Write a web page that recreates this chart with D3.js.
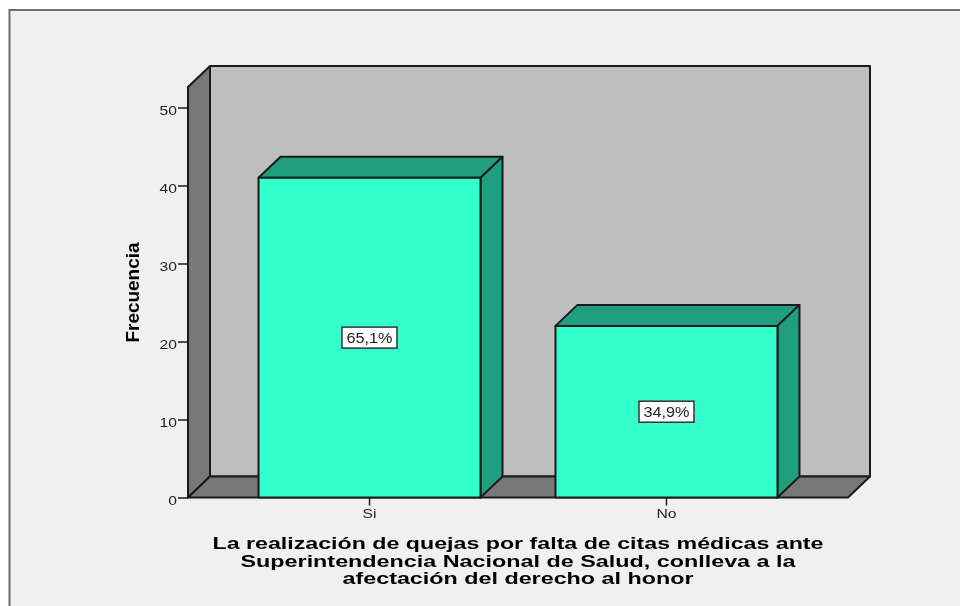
<!DOCTYPE html>
<html>
<head>
<meta charset="utf-8">
<script src="https://cdn.jsdelivr.net/npm/d3@7"></script>
<style>
    html, body { margin: 0; padding: 0; background: #fff; }
    svg { display: block; filter: blur(0.4px); }
    text { font-family: "Liberation Sans", Arial, sans-serif; }
</style>
</head>
<body>
<script>
// Data
var categories = ["Si", "No"];
var counts = [41, 22];
var percentLabels = ["65,1%", "34,9%"];
var yTicks = [0, 10, 20, 30, 40, 50];
var yTitle = "Frecuencia";
var xTitleLines = [
    "La realización de quejas por falta de citas médicas ante",
    "Superintendencia Nacional de Salud, conlleva a la",
    "afectación del derecho al honor"
];

// Colors
var frameFill = "#f0f0f0";
var frameStroke = "#6e6e6e";
var backWall = "#bebebe";
var sideWall = "#787878";
var barFront = "#33ffcc";
var barDark = "#1f9f7f";
var lineColor = "#1a1a1a";

var width = 960, height = 606;

// Plot box (front plane) and the 3D offset
var left = 188, right = 848, bottom = 497.5, topY = 87;
var depthX = 22, depthY = 21;

// Small labels in the reference are wider than Liberation Sans
var labelStretch = 1.16;

var svg = d3.select("body").append("svg")
    .attr("width", width)
    .attr("height", height);

// Outer frame, open on the right and the bottom like the reference
svg.append("rect")
    .attr("x", 9.5).attr("y", 10)
    .attr("width", width).attr("height", height)
    .attr("fill", frameFill)
    .attr("stroke", frameStroke)
    .attr("stroke-width", 2);

var x = d3.scaleBand()
    .domain(categories)
    .range([left, right])
    .paddingInner(0.2525)
    .paddingOuter(0.2375);

var y = d3.scaleLinear()
    .domain([0, 50])
    .range([bottom, 107.5]);

function poly(points, fill, sw) {
    svg.append("polygon")
        .attr("points", points.map(function (p) { return p.join(","); }).join(" "))
        .attr("fill", fill)
        .attr("stroke", lineColor)
        .attr("stroke-width", sw || 2)
        .attr("stroke-linejoin", "round");
}

function stretchText(sel) {
    sel.attr("textLength", function () { return this.getComputedTextLength() * labelStretch; })
        .attr("lengthAdjust", "spacingAndGlyphs");
}

// Walls and floor
poly([[left + depthX, topY - depthY], [right + depthX, topY - depthY],
      [right + depthX, bottom - depthY], [left + depthX, bottom - depthY]], backWall);
poly([[left, topY], [left + depthX, topY - depthY],
      [left + depthX, bottom - depthY], [left, bottom]], sideWall);
poly([[left, bottom], [left + depthX, bottom - depthY],
      [right + depthX, bottom - depthY], [right, bottom]], sideWall);

// Bars
categories.forEach(function (c, i) {
    var x0 = x(c), x1 = x(c) + x.bandwidth(), yTop = y(counts[i]);
    poly([[x0, yTop], [x0 + depthX, yTop - depthY],
          [x1 + depthX, yTop - depthY], [x1, yTop]], barDark);
    poly([[x1, yTop], [x1 + depthX, yTop - depthY],
          [x1 + depthX, bottom - depthY], [x1, bottom]], barDark);
    poly([[x0, yTop], [x1, yTop], [x1, bottom], [x0, bottom]], barFront);
});

// Axes
var yAxis = d3.axisLeft(y).tickValues(yTicks).tickSize(10).tickPadding(1).tickFormat(d3.format("d"));
var xAxis = d3.axisBottom(x).tickSize(8).tickPadding(3);

var gy = svg.append("g").attr("transform", "translate(" + left + ",0)").call(yAxis);
var gx = svg.append("g").attr("transform", "translate(0," + bottom + ")").call(xAxis);

[gy, gx].forEach(function (g) {
    g.select(".domain").remove();
    g.selectAll("line").attr("stroke", lineColor).attr("stroke-width", 1.5);
    g.selectAll("text")
        .attr("fill", "#222")
        .style("font-size", "13.5px")
        .style("font-family", "'Liberation Sans', Arial, sans-serif")
        .call(stretchText);
});
gy.selectAll("text").attr("dy", "0.5em");

// Percent labels in the middle of each bar
categories.forEach(function (c, i) {
    var cx = x(c) + x.bandwidth() / 2, cy = y(counts[i] / 2);
    svg.append("rect")
        .attr("x", cx - 27.5).attr("y", cy - 10.5)
        .attr("width", 55).attr("height", 21)
        .attr("fill", "#fff")
        .attr("stroke", "#333")
        .attr("stroke-width", 1.5);
    svg.append("text")
        .attr("x", cx).attr("y", cy + 5)
        .attr("text-anchor", "middle")
        .attr("fill", "#222")
        .style("font-size", "14px")
        .text(percentLabels[i])
        .call(stretchText);
});

// y axis title (narrow bold type)
svg.append("text")
    .attr("transform", "translate(138.5,292.5) rotate(-90)")
    .attr("text-anchor", "middle")
    .attr("textLength", 100)
    .attr("lengthAdjust", "spacingAndGlyphs")
    .attr("fill", "#000")
    .style("font-size", "19px")
    .style("font-weight", "bold")
    .text(yTitle);

// x axis title
var titleWidths = [611, 555, 351];
xTitleLines.forEach(function (line, i) {
    svg.append("text")
        .attr("x", 518)
        .attr("y", 549 + i * 17.5)
        .attr("text-anchor", "middle")
        .attr("textLength", titleWidths[i])
        .attr("lengthAdjust", "spacingAndGlyphs")
        .attr("fill", "#000")
        .style("font-size", "16px")
        .style("font-weight", "bold")
        .text(line);
});
</script>
</body>
</html>
